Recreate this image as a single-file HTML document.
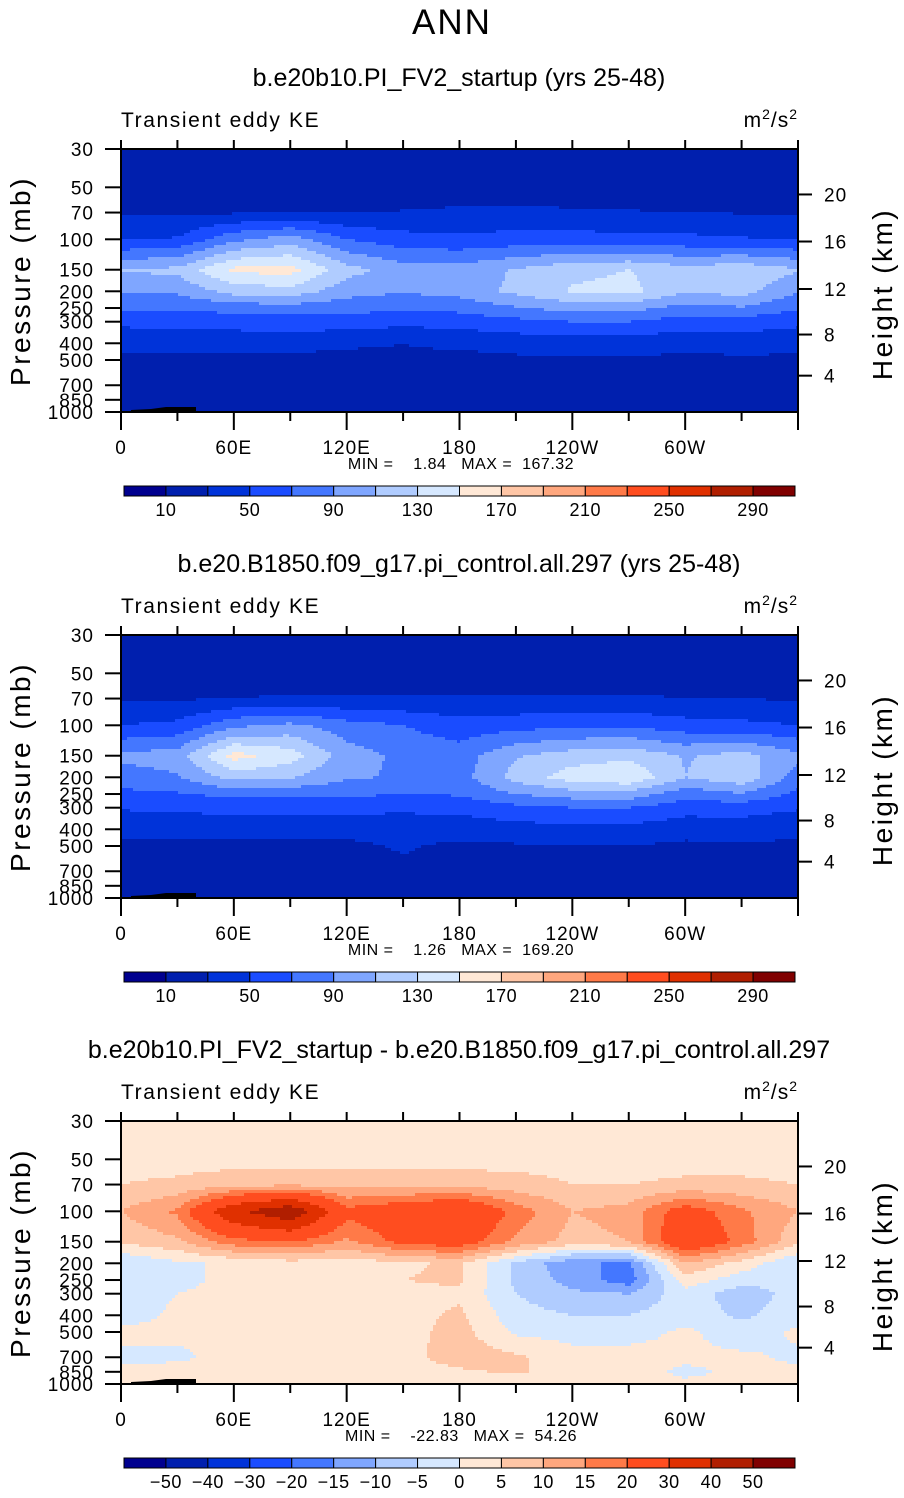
<!DOCTYPE html>
<html><head><meta charset="utf-8">
<style>
body{margin:0;background:#fff;}
svg text{font-family:"Liberation Sans","DejaVu Sans",sans-serif;fill:#000;white-space:pre;}
</style></head>
<body>
<svg id="fig" width="904" height="1493" viewBox="0 0 904 1493" xmlns="http://www.w3.org/2000/svg">
<text x="452" y="34" font-size="35" text-anchor="middle" letter-spacing="2">ANN</text>
</svg>
<script>
// ---- data ----
const lons = [0,30,60,90,120,150,180,210,240,270,300,330,360];
const levels = [30,50,70,100,150,200,250,300,400,500,700,850,1000];
const pTicks = [30,50,70,100,150,200,250,300,400,500,700,850,1000];
const hTicks = [20,16,12,8,4];
const hTickP = [55,103,194,356,616];
const xTickLabels = ["0","60E","120E","180","120W","60W"];
const kePalette = ["#00008f","#001fae","#0033d9","#1a4cff","#4477ff","#7fa6ff","#b0ccff","#d6e8ff","#ffe8d6","#ffc6a6","#ffa77e","#ff7a48","#ff4d1f","#e03000","#b01e00","#800000"];
const keLevels = [10,30,50,70,90,110,130,150,170,190,210,230,250,270,290];
const keLabels = ["10","50","90","130","170","210","250","290"];
const diffLevels = [-50,-40,-30,-20,-15,-10,-5,0,5,10,15,20,30,40,50];
const diffLabels = ["-50","-40","-30","-20","-15","-10","-5","0","5","10","15","20","30","40","50"];
const ke1 = [
[18,18,18,18,18,18,18,18,18,18,18,18,18],
[20,20,20,20,20,20,20,21,21,21,21,20,20],
[27,27,28,29,29,31,33,33,32,31,30,29,27],
[48,52,85,100,70,58,55,58,58,57,55,52,48],
[112,115,155,158,118,100,98,112,125,130,118,125,112],
[92,94,118,122,98,92,98,115,132,136,112,118,92],
[72,72,78,80,78,72,76,88,98,98,82,88,72],
[55,56,58,60,60,56,58,64,70,70,60,60,55],
[36,36,38,38,34,30,34,38,40,40,36,40,36],
[26,26,26,25,22,27,24,26,28,28,25,26,26],
[22,20,21,21,20,25,21,21,21,21,20,20,22],
[14,16,18,18,17,18,18,17,16,16,16,15,14],
[10,14,15,14,14,14,14,14,14,13,12,12,10]];
const ke2 = [
[18,18,18,18,18,18,18,18,18,18,18,18,18],
[20,20,20,20,20,20,20,21,21,21,21,20,20],
[28,28,30,32,32,32,32,32,32,32,30,30,28],
[50,55,85,95,78,70,58,62,66,66,58,55,50],
[95,100,158,140,100,85,80,108,120,125,108,118,95],
[80,88,118,112,92,88,82,118,140,148,110,125,80],
[65,68,76,76,74,70,72,90,100,102,78,88,65],
[52,54,56,56,56,54,56,64,70,70,58,58,52],
[34,36,38,38,36,38,38,42,44,44,38,40,34],
[26,26,26,26,26,32,26,28,30,30,26,28,26],
[20,22,22,21,20,26,21,21,21,21,22,20,20],
[14,16,18,18,17,18,18,16,16,16,18,15,14],
[10,13,14,14,14,14,14,12,12,13,12,12,10]];
const ke3 = [
[3,3,3,3,3,3,3,3,3,3,3,3,3],
[3,3,3,3,3,3,3,3,3,3,3,3,3],
[5,6,8,9,8,8,8,7,5,5,6,6,5],
[10,16,38,48,22,26,30,18,10,12,24,16,10],
[6,9,18,20,14,22,24,14,8,10,28,18,6],
[-5,-1,1,3,2,4,6,-6,-14,-16,10,3,-5],
[-4,-1,1,2,2,5,6,-6,-12,-18,3,-3,-4],
[-3,0,1,1,2,3,4,-5,-9,-10,-2,-8,-3],
[-2,1,1,1,2,3,6,-3,-5,-5,-2,-6,-2],
[1,1,1,1,2,3,7,-1,-2,-2,1,-3,1],
[-1,-1,2,2,2,3,8,6,2,2,1,1,-1],
[1,2,2,2,2,2,4,6,2,2,-1,1,1],
[1,1,1,1,1,1,1,1,1,1,1,1,1]];
const panels = [
 {title:"b.e20b10.PI_FV2_startup (yrs 25-48)", data:ke1, lev:keLevels, labels:keLabels, labelEvery:2, min:"1.84", max:"167.32"},
 {title:"b.e20.B1850.f09_g17.pi_control.all.297 (yrs 25-48)", data:ke2, lev:keLevels, labels:keLabels, labelEvery:2, min:"1.26", max:"169.20"},
 {title:"b.e20b10.PI_FV2_startup - b.e20.B1850.f09_g17.pi_control.all.297", data:ke3, lev:diffLevels, labels:diffLabels, labelEvery:1, min:"-22.83", max:"54.26"}
];
// ---- drawing ----
const NS="http://www.w3.org/2000/svg";
const svg=document.getElementById('fig');
function mk(tag,attrs,parent){const e=document.createElementNS(NS,tag);for(const k in attrs)e.setAttribute(k,attrs[k]);(parent||svg).appendChild(e);return e;}
const X0=121,X1=798,PH=263;
const xScale=l=>X0+(l/360)*(X1-X0);
function yScale(p,top){return top+Math.log(p/30)/Math.log(1000/30)*PH;}
function valueAt(data,lon,p){
  let i=Math.min(11,Math.floor(lon/30)); let fx=(lon-lons[i])/30;
  const lp=Math.log(p); let j=0; while(j<11&&Math.log(levels[j+1])<lp)j++;
  let fy=(lp-Math.log(levels[j]))/(Math.log(levels[j+1])-Math.log(levels[j]));
  fy=Math.max(0,Math.min(1,fy));
  const a=data[j][i],b=data[j][i+1],c=data[j+1][i],d=data[j+1][i+1];
  return a*(1-fx)*(1-fy)+b*fx*(1-fy)+c*(1-fx)*fy+d*fx*fy;
}
function bin(v,lev){let k=0;while(k<lev.length&&v>=lev[k])k++;return k;}
panels.forEach((P,pi)=>{
  const top=149+pi*486;
  const g=mk('g',{});
  
  
  const t=mk('text',{x:459,y:top-63,'font-size':25,'text-anchor':'middle'},g);t.textContent=P.title;
  
  const s=mk('text',{x:121,y:top-22,'font-size':21,'letter-spacing':'1.6'},g);s.textContent="Transient eddy KE";
  
  const u=mk('text',{x:798,y:top-22,'font-size':21,'text-anchor':'end','letter-spacing':'1'},g);u.innerHTML='m<tspan dy="-8" font-size="14">2</tspan><tspan dy="8">/s</tspan><tspan dy="-8" font-size="14">2</tspan>';
  
  const cg=mk('g',{'shape-rendering':'crispEdges'},g);
  
  const cs=3;
  const nx=Math.ceil((X1-X0)/cs);
  for(let y=top;y<top+PH;y+=cs){
    const p=30*Math.exp(((y+cs/2-top)/PH)*Math.log(1000/30));
    const h=Math.min(cs,top+PH-y)+0.5;
    let runStart=X0,runBin=-1;
    for(let k=0;k<=nx;k++){
      const x=X0+k*cs;
      let b=-2;
      if(k<nx){const lon=(x+cs/2-X0)/(X1-X0)*360;b=bin(valueAt(P.data,Math.min(359.9,lon),p),P.lev);}
      if(b!==runBin){
        if(runBin>=0){const r=mk('rect',{x:runStart,y:y,width:Math.min(x,X1)-runStart+0.5,height:h,fill:kePalette[runBin]},cg);
          }
        runStart=x;runBin=b;
      }
    }
  }
  const topo=mk('path',{d:`M${X0+10} ${top+PH} L${X0+10} ${top+PH-2} L${X0+30} ${top+PH-3} L${X0+45} ${top+PH-5} L${X0+75} ${top+PH-5} L${X0+75} ${top+PH}Z`,fill:'#000'},g);
  
  const fr=mk('rect',{x:X0,y:top,width:X1-X0,height:PH,fill:'none',stroke:'#000','stroke-width':2},g);
  
  pTicks.forEach(p=>{const y=yScale(p,top);
    mk('line',{x1:105,x2:X0,y1:y,y2:y,stroke:'#000','stroke-width':2},g);
    const tl=mk('text',{x:94,y:y+7,'font-size':19,'text-anchor':'end','letter-spacing':'1'},g);tl.textContent=p;
    });
  hTicks.forEach((h,k)=>{const y=yScale(hTickP[k],top);
    mk('line',{x1:X1,x2:X1+14,y1:y,y2:y,stroke:'#000','stroke-width':2},g);
    const tl=mk('text',{x:824,y:y+7,'font-size':19,'letter-spacing':'1'},g);tl.textContent=h;
    });
  for(let l=0;l<=360;l+=30){const x=xScale(l);
    mk('line',{x1:x,x2:x,y1:top-9,y2:top,stroke:'#000','stroke-width':2},g);
    mk('line',{x1:x,x2:x,y1:top+PH,y2:top+PH+(l%60===0?18:9),stroke:'#000','stroke-width':2},g);}
  xTickLabels.forEach((lb,k)=>{const tl=mk('text',{x:xScale(k*60),y:top+PH+42,'font-size':19,'text-anchor':'middle','letter-spacing':'1'},g);tl.textContent=lb;
    });
  const yl=mk('text',{x:0,y:0,'font-size':28,'text-anchor':'middle','letter-spacing':'2.5',transform:`translate(30,${top+132}) rotate(-90)`},g);yl.textContent="Pressure (mb)";
  
  const hl=mk('text',{x:0,y:0,'font-size':28,'text-anchor':'middle','letter-spacing':'2.5',transform:`translate(892,${top+145}) rotate(-90)`},g);hl.textContent="Height (km)";
  
  const mm=mk('text',{x:461,y:top+320,'font-size':16,'text-anchor':'middle','letter-spacing':'0.5'},g);mm.textContent=`MIN =    ${P.min}   MAX =  ${P.max}`;
  
  const cb0=124,cb1=795,cby=top+337,bw=(cb1-cb0)/16;
  kePalette.forEach((c,k)=>{const r=mk('rect',{x:cb0+k*bw,y:cby,width:bw,height:10,fill:c,stroke:'#000','stroke-width':1},g);
    });
  P.labels.forEach((lb,k)=>{const x=cb0+bw*(1+k*P.labelEvery);
    const tl=mk('text',{x:x,y:cby+30,'font-size':18,'text-anchor':'middle','letter-spacing':'0.5'},g);tl.textContent=lb.replace('-','\u2212');
    });
});
</script>
</body></html>
